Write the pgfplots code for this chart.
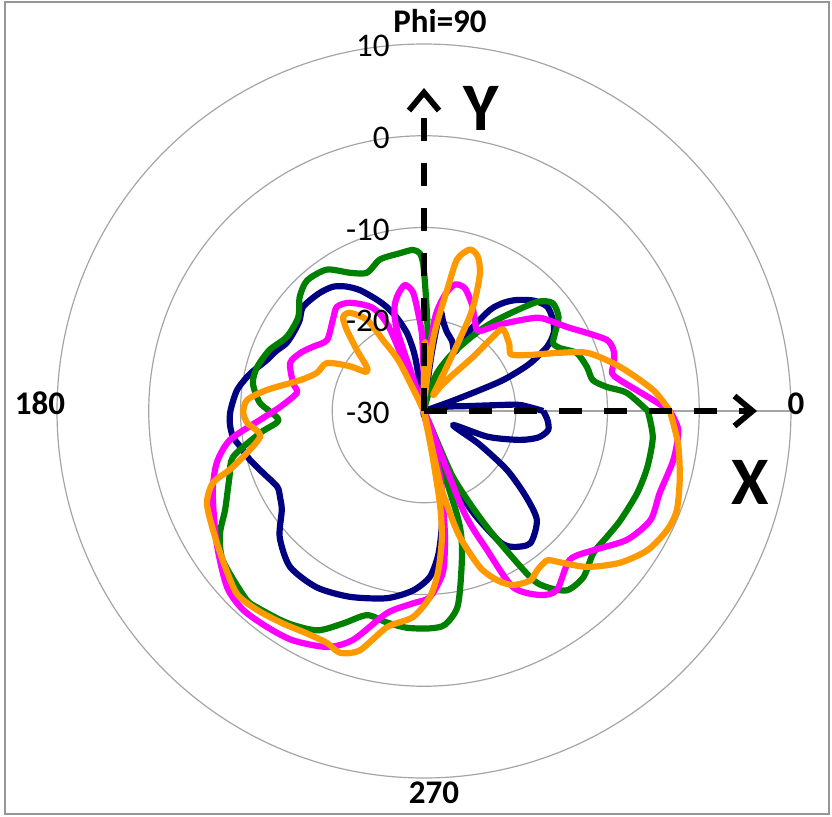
\documentclass[border=0pt]{standalone}
\usepackage{fontspec}
\setmainfont{Carlito}
\usepackage{pgfplots}
\pgfplotsset{compat=1.18}
\usepackage{pgfplotstable}
\usepgfplotslibrary{polar}
\usetikzlibrary{arrows.meta}

\definecolor{navyc}{RGB}{0,0,128}
\definecolor{greenc}{RGB}{0,128,0}
\definecolor{magc}{RGB}{255,0,255}
\definecolor{orac}{RGB}{255,153,0}
\definecolor{gridc}{RGB}{165,165,165}
\definecolor{framec}{RGB}{150,150,150}

\pgfplotstableread{
t db
0 -17.0
3.6 -19.5
4.5 -21.7
6.2 -25.0
9 -26.8
12 -28.0
15 -29.5
18 -29.5
19.5 -27.0
20.4 -24.1
21.4 -20.7
24 -17.5
27.5 -14.9
31 -13.5
35.2 -12.8
40.2 -12.4
45 -13.0
50 -14.2
53.5 -15.3
56.8 -16.8
60.4 -19.9
62.3 -22.7
68 -21.8
74 -21.0
78 -20.0
80.8 -19.1
82.5 -24.0
84 -30
96 -30
99 -25.0
100 -23.2
102.3 -21.3
106 -19.5
109.6 -18.0
113 -16.8
117.9 -15.1
122 -14.0
126.3 -13.2
132 -12.8
139.3 -12.6
143.7 -13.2
148 -13.4
153.6 -13.3
158 -12.6
162 -12.0
168 -10.6
173.6 -9.5
180 -8.9
184 -8.8
187.8 -9.0
191 -9.6
195.7 -10.3
201 -11.2
207.3 -12.0
211 -11.7
214.9 -11.1
221.2 -9.1
229.3 -7.6
238.7 -7.5
248.3 -8.2
258.8 -9.2
266.5 -10.4
272 -11.9
275.6 -14.2
278.5 -17.0
280.8 -19.6
282.9 -23.2
285 -27.0
287.5 -30
290 -27.0
292.2 -21.6
296.1 -17.4
300.1 -13.5
303.2 -12.3
308.8 -11.5
316 -12.9
320 -15.5
324.6 -18.9
329 -23.0
334.2 -26.5
338 -22.5
343.2 -19.1
347 -17.2
351.3 -16.3
355.8 -16.5
360 -17.0
}\navytab

\pgfplotstableread{
t db
0 -5.6
5.1 -7.8
7.5 -9.9
10.4 -11.3
15.1 -11.6
20.8 -12.2
24.9 -13.7
27.8 -14.1
31 -13.3
35 -12.1
40 -11.7
44 -12.9
50 -16.6
55.3 -19.3
63.4 -22.9
71 -25.6
76 -28.5
80 -30
84 -30
86.5 -23.5
88 -20.0
89.3 -16.8
90.3 -14.0
91.5 -12.8
94 -12.4
98.6 -12.6
106.2 -12.8
112.4 -13.7
118.2 -12.9
124.5 -11.3
131.8 -10.9
137.4 -11.6
143.3 -12.9
151.6 -13.0
158.4 -11.9
165.2 -11.2
170.7 -11.1
177.2 -12.1
183.5 -14.1
187.6 -12.0
193.5 -8.6
198.8 -7.6
206.4 -5.8
210.9 -4.1
216.5 -2.7
226.3 -1.8
229.6 -1.9
237.1 -2.5
244 -3.4
249.1 -5.2
254.4 -6.9
260 -6.6
265.5 -6.3
271.6 -6.3
275.6 -6.6
279.9 -8.5
284.8 -13.8
287.6 -17.8
290.5 -29
293.7 -22.1
298.5 -15.6
302.6 -8.5
304.9 -6.6
308.6 -5.0
313.8 -4.9
320 -5.9
325.5 -5.8
330.9 -5.5
338.9 -5.1
345.9 -4.9
353.5 -4.9
360 -5.6
}\greentab

\pgfplotstableread{
t db
0 -3.2
2.75 -5.0
9 -8.4
11.4 -9.1
14.5 -8.6
17.9 -8.3
21.2 -8.6
25.6 -10.3
30 -11.8
34.6 -12.9
39.5 -14.0
46.7 -16.8
50.6 -18.1
56 -19.5
61 -18.6
65.6 -17.3
71.6 -15.9
76.2 -15.8
79.7 -17.1
83.3 -19.8
86.5 -26
88.5 -30
90.5 -26
91.5 -21.7
93.5 -19.2
95.3 -17.0
98.6 -16.1
102.6 -17.0
106 -18.3
108.5 -21
110.5 -30
112.5 -20.5
116.3 -17.5
124.4 -15.7
129.9 -15.2
134.7 -15.9
143.8 -16.9
150 -16.0
154.9 -15.1
160.3 -14.5
167.9 -15.4
171.9 -16.0
178.4 -14.3
183.1 -12.1
188.5 -8.6
194.1 -6.7
201.2 -5.3
212.5 -3.2
221.8 -1.2
227.7 -0.7
234 -0.9
240.2 -1.2
247.7 -2.2
252.8 -3.9
259.6 -7.6
266.7 -9.0
271.8 -9.7
276.7 -12.3
279.4 -16.0
281.4 -19.5
284 -23
287.5 -30
291.5 -18.4
294.4 -13.4
296.8 -8.5
302.2 -6.3
306.6 -5.7
314.4 -7.3
320.6 -6.1
327.6 -3.8
334.3 -2.6
340.8 -2.8
348.9 -2.3
355.7 -2.2
360 -3.2
}\magtab

\pgfplotstableread{
t db
0 -3.2
5.2 -4.9
12.7 -8.1
19.6 -11.1
24 -14.5
27.8 -16.9
32 -18.5
34 -18.7
38 -18.2
41.7 -17.9
44 -17.7
46.8 -17.9
47.8 -22
52 -25.2
56.3 -26.9
60 -28
62.5 -25
64 -19
65.5 -16.5
67.9 -13.8
70.7 -12.2
74.1 -11.7
77.7 -13.1
79.2 -16.6
81 -19.5
82.8 -22.2
85 -27
87 -28
89 -22.5
91 -28
94 -30
113 -30
116.6 -24.1
120 -21.1
122 -18.3
127 -16.6
130.8 -16.5
133.6 -17.8
137.7 -20.1
142.3 -22.1
146 -22.4
149 -20.5
153.7 -18.2
160.4 -17.6
166 -16.1
172.4 -12.7
176.4 -10.7
180.3 -10.3
183.9 -10.7
189 -11.9
196.3 -8.3
198.8 -5.7
203 -4.3
209.4 -3.6
216.5 -2.7
224.2 -1.5
230 -1.7
236.4 -2.2
242.2 -2.6
247.3 -2.6
250.9 -2.1
255 -3.0
260.3 -6.1
266.9 -7.5
271.8 -9.7
275 -12.4
278 -16.0
279.7 -19.6
280.7 -25
281.5 -30
282.5 -22
284 -19
285.9 -15.7
289.7 -11.9
293.4 -9.9
297.1 -8.7
302.1 -8.2
305.4 -8.7
309.5 -8.9
312 -7.8
316.3 -5.4
322.2 -3.0
328.1 -1.3
333.9 -0.5
338.6 -0.4
345.5 -1.2
352.8 -2.1
360 -3.2
}\oratab

\begin{document}
\begin{tikzpicture}
\begin{polaraxis}[
  scale only axis, width=367pt, height=367pt,
  xmin=0, xmax=360, ymin=0, ymax=40,
  xtick=\empty, ytick={10,20,30}, yticklabels={},
  ymajorgrids=true, xmajorgrids=false,
  major tick length=0pt,
  grid style={draw=gridc, line width=0.6pt},
  axis line style={draw=gridc, line width=0.6pt},
  clip=false,
  every axis plot/.append style={line width=3.1pt, line join=round, smooth, tension=0.45, no markers},
]
\addplot[navyc] table[x=t, y expr=\thisrow{db}+30] {\navytab};
\addplot[greenc] table[x=t, y expr=\thisrow{db}+30] {\greentab};
\addplot[magc] table[x=t, y expr=\thisrow{db}+30] {\magtab};
\addplot[orac] table[x=t, y expr=\thisrow{db}+30] {\oratab};
\coordinate (O) at (axis cs:0,0);
\end{polaraxis}
\begin{scope}[shift={(O)}]
\path (-212pt,-202.5pt) rectangle (204pt,205.5pt);
\draw[framec, line width=1.2pt] (-209.5pt,-201.5pt) rectangle (202.5pt,204.5pt);
\foreach \r/\l in {0/-30, 45.875/-20, 91.75/-10, 137.625/0, 183.5/10}{
  \node[anchor=east, inner sep=0pt, font=\fontsize{16.5}{19}\selectfont] at (-17pt,\r pt-1pt) {\l};
}
\node[inner sep=0pt, font=\bfseries\fontsize{16.5}{19}\selectfont] at (8pt,195pt) {Phi=90};
\node[inner sep=0pt, font=\bfseries\fontsize{16.5}{19}\selectfont] at (-192pt,4pt) {180};
\node[inner sep=0pt, font=\bfseries\fontsize{16.5}{19}\selectfont] at (186pt,3.5pt) {0};
\node[inner sep=0pt, font=\bfseries\fontsize{16.5}{19}\selectfont] at (5pt,-191pt) {270};
\node[inner sep=0pt, font=\bfseries\fontsize{34}{38}\selectfont] at (28.5pt,151.5pt) {Y};
\node[inner sep=0pt, font=\bfseries\fontsize{34}{38}\selectfont] at (163pt,-35.5pt) {X};
\draw[line width=2.9pt, dash pattern=on 11.5pt off 11pt, -{Straight Barb[length=9pt,width=15pt]}] (0,0) -- (0,161.5pt);
\draw[line width=2.9pt, dash pattern=on 11.5pt off 11pt, -{Straight Barb[length=9pt,width=15pt]}] (0,0) -- (166.5pt,0);
\end{scope}
\end{tikzpicture}
\end{document}
